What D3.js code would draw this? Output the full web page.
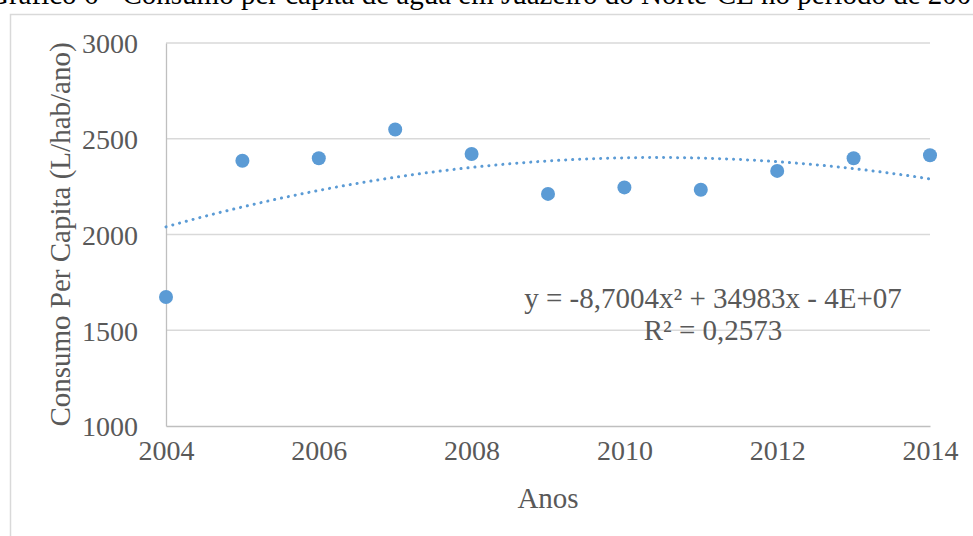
<!DOCTYPE html>
<html>
<head>
<meta charset="utf-8">
<script src="https://cdn.jsdelivr.net/npm/d3@7"></script>
<style>
  body { margin: 0; background: #fff; }
  svg { display: block; font-family: "Liberation Serif", "Times New Roman", serif; }
</style>
</head>
<body>
<svg id="chart" width="973" height="536"></svg>
<script>
// data
var years = [2004, 2005, 2006, 2007, 2008, 2009, 2010, 2011, 2012, 2013, 2014];
var consumo = [1674, 2385, 2398, 2548, 2420, 2212, 2246, 2234, 2332, 2398, 2414];
var yTicks = [1000, 1500, 2000, 2500, 3000];
var xTicks = [2004, 2006, 2008, 2010, 2012, 2014];
var equationLabel = 'y = -8,7004x\u00b2 + 34983x - 4E+07';
var r2Label = 'R\u00b2 = 0,2573';

var svg = d3.select('#chart');
var blue = '#5b9bd5';

/* page title, cut off at the top of the crop */
svg.append('text')
  .attr('x', -12).attr('y', 4)
  .attr('font-size', 29).attr('fill', '#000')
  .text('Gráfico 6 - Consumo per capita de água em Juazeiro do Norte-CE no período de 2004 a 2014');

/* chart frame */
svg.append('rect')
  .attr('x', 10.5).attr('y', 14.5)
  .attr('width', 1000).attr('height', 600)
  .attr('fill', '#fff').attr('stroke', '#d9d9d9').attr('stroke-width', 1.5);

var x = d3.scaleLinear().domain([2004, 2014]).range([166, 930]);
var y = d3.scaleLinear().domain([1000, 3000]).range([426, 43]);

/* grid */
svg.append('g').selectAll('line')
  .data(yTicks.filter(function(d) { return d > 1000; }))
  .enter().append('line')
    .attr('x1', x(2004)).attr('x2', x(2014))
    .attr('y1', function(d) { return y(d); })
    .attr('y2', function(d) { return y(d); })
    .attr('stroke', '#d9d9d9').attr('stroke-width', 1.3);

/* axes */
var xAxis = d3.axisBottom(x).tickValues(xTicks).tickFormat(d3.format('d')).tickSize(0).tickPadding(14);
var yAxis = d3.axisLeft(y).tickValues(yTicks).tickFormat(d3.format('d')).tickSize(0).tickPadding(28);

var gx = svg.append('g')
  .attr('transform', 'translate(0,' + y(1000) + ')')
  .call(xAxis);
var gy = svg.append('g')
  .attr('transform', 'translate(' + x(2004) + ',0)')
  .call(yAxis);

[gx, gy].forEach(function(g) {
  g.select('.domain').attr('stroke', '#bfbfbf').attr('stroke-width', 1.3);
  g.selectAll('text')
    .attr('font-family', '"Liberation Serif", serif')
    .attr('font-size', 28)
    .attr('fill', '#595959');
});
gx.selectAll('text').attr('dy', '0.71em');
gy.selectAll('text').attr('dy', '0.35em');

/* axis titles */
svg.append('text')
  .attr('x', x(2009)).attr('y', 508)
  .attr('text-anchor', 'middle')
  .attr('font-size', 29).attr('fill', '#595959')
  .text('Anos');

svg.append('text')
  .attr('transform', 'translate(70,' + y(2000) + ') rotate(-90)')
  .attr('text-anchor', 'middle')
  .attr('font-size', 29).attr('fill', '#595959')
  .text('Consumo Per Capita (L/hab/ano)');

/* polynomial (order 2) trend line, least squares on the points */
function quadFit(xs, ys) {
  var x0 = d3.mean(xs);
  var s = [0, 0, 0, 0, 0], t = [0, 0, 0];
  xs.forEach(function(xv, i) {
    var u = xv - x0;
    for (var k = 0; k < 5; k++) s[k] += Math.pow(u, k);
    for (var j = 0; j < 3; j++) t[j] += ys[i] * Math.pow(u, j);
  });
  var m = [[s[0], s[1], s[2], t[0]], [s[1], s[2], s[3], t[1]], [s[2], s[3], s[4], t[2]]];
  for (var c = 0; c < 3; c++) {
    for (var r = c + 1; r < 3; r++) {
      var f = m[r][c] / m[c][c];
      for (var q = c; q < 4; q++) m[r][q] -= f * m[c][q];
    }
  }
  var b = [0, 0, 0];
  for (var i = 2; i >= 0; i--) {
    var v = m[i][3];
    for (var k2 = i + 1; k2 < 3; k2++) v -= m[i][k2] * b[k2];
    b[i] = v / m[i][i];
  }
  return function(xv) { var u = xv - x0; return b[0] + b[1] * u + b[2] * u * u; };
}

var trend = quadFit(years, consumo);
var trendXs = d3.range(2004, 2014.001, 0.1);
svg.append('path')
  .datum(trendXs)
  .attr('fill', 'none')
  .attr('stroke', blue)
  .attr('stroke-width', 3)
  .attr('stroke-linecap', 'round')
  .attr('stroke-dasharray', '0.1,6.9')
  .attr('d', d3.line()
    .x(function(d) { return x(d); })
    .y(function(d) { return y(trend(d)); }));

/* points */
svg.append('g').selectAll('circle')
  .data(years)
  .enter().append('circle')
    .attr('cx', function(d) { return x(d); })
    .attr('cy', function(d, i) { return y(consumo[i]); })
    .attr('r', 7)
    .attr('fill', blue);

/* trend equation */
svg.append('text')
  .attr('x', 713).attr('y', 308)
  .attr('text-anchor', 'middle')
  .attr('font-size', 29).attr('fill', '#595959')
  .text(equationLabel);
svg.append('text')
  .attr('x', 713).attr('y', 340)
  .attr('text-anchor', 'middle')
  .attr('font-size', 29).attr('fill', '#595959')
  .text(r2Label);
</script>
</body>
</html>
